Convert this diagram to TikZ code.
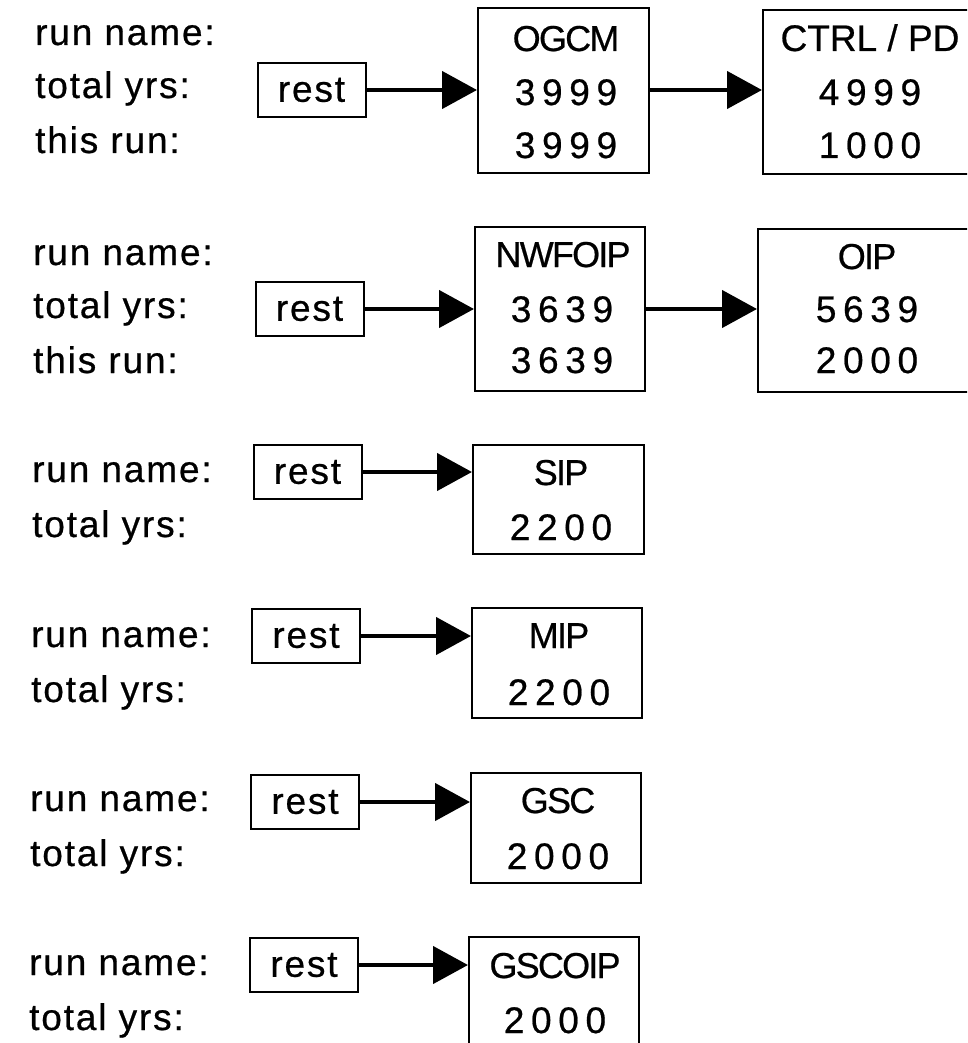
\documentclass[tikz,border=0pt]{standalone}
\usepackage{fontspec}
\setmainfont{Liberation Sans}
\newfontfamily\lblfont[LetterSpace=5,FakeBold=0.6]{Liberation Sans}
\newfontfamily\numfont[LetterSpace=18,FakeBold=0.6]{Liberation Sans}
\newfontfamily\namefont[LetterSpace=-5,FakeBold=0.6]{Liberation Sans}
\newfontfamily\plainfont[FakeBold=0.6]{Liberation Sans}
\usetikzlibrary{arrows.meta}
\tikzset{
  lbl/.style={anchor=base west, inner sep=0pt, font=\lblfont\fontsize{37}{40}\selectfont},
  nm/.style={anchor=base, inner sep=0pt, font=\namefont\fontsize{36}{40}\selectfont},
  nmplain/.style={anchor=base, inner sep=0pt, font=\plainfont\fontsize{37}{40}\selectfont},
  num/.style={anchor=base, inner sep=0pt, font=\numfont\fontsize{37}{40}\selectfont},
  restbox/.style={draw, line width=2pt, inner sep=0pt, minimum width=108pt, minimum height=54pt, font=\lblfont\fontsize{37}{40}\selectfont},
  runbox/.style={draw, line width=2pt, inner sep=0pt},
  conn/.style={line width=4.5pt, -{Triangle[length=35pt,width=37pt]}}
}
\begin{document}
\begin{tikzpicture}[x=1pt,y=-1pt]
\useasboundingbox (0,0) rectangle (967,1043);
\clip (0,0) rectangle (967,1043);
\fill[white] (0,0) rectangle (967,1043);
% ---------- group 1
\node[lbl] (l1a) at (35,45) {run name:};
\node[lbl] (l1b) at (35,98) {total yrs:};
\node[lbl] (l1c) at (35,153) {this run:};
\node[restbox] (r1) at (311.5,90) {rest};
\node[runbox, minimum width=171pt, minimum height=165pt] (b1) at (563.5,90.5) {};
\node[nm] (b1n) at (566,51) {OGCM};
\node[num] (b1t) at (566,105) {3999};
\node[num] (b1r) at (566,158) {3999};
\node[runbox, minimum width=214pt, minimum height=164pt] (c1) at (870,92) {};
\node[nmplain] (c1n) at (870,51) {CTRL / PD};
\node[num] (c1t) at (870,105) {4999};
\node[num] (c1r) at (870,158) {1000};
\draw[conn] (r1.east) -- (r1.east -| b1.west);
\draw[conn] (b1.east |- r1.east) -- (r1.east -| c1.west);
% ---------- group 2
\node[lbl] (l2a) at (33,265) {run name:};
\node[lbl] (l2b) at (33,318) {total yrs:};
\node[lbl] (l2c) at (33,373) {this run:};
\node[restbox] (r2) at (309.5,309) {rest};
\node[runbox, minimum width=170pt, minimum height=164pt] (b2) at (560,309) {};
\node[nm] (b2n) at (563,267) {NWFOIP};
\node[num] (b2t) at (562,322) {3639};
\node[num] (b2r) at (562,373) {3639};
\node[runbox, minimum width=218pt, minimum height=163pt] (c2) at (867,310.5) {};
\node[nm] (c2n) at (867,269) {OIP};
\node[num] (c2t) at (867,322) {5639};
\node[num] (c2r) at (867,373) {2000};
\draw[conn] (r2.east) -- (r2.east -| b2.west);
\draw[conn] (b2.east |- r2.east) -- (r2.east -| c2.west);
% ---------- group 3
\node[lbl] (l3a) at (32,482) {run name:};
\node[lbl] (l3b) at (32,537) {total yrs:};
\node[restbox] (r3) at (307.5,472) {rest};
\node[runbox, minimum width=171pt, minimum height=109pt] (b3) at (558.5,499.5) {};
\node[nm] (b3n) at (561,485) {SIP};
\node[num] (b3t) at (561,540) {2200};
\draw[conn] (r3.east) -- (r3.east -| b3.west);
% ---------- group 4
\node[lbl] (l4a) at (31,647) {run name:};
\node[lbl] (l4b) at (31,702) {total yrs:};
\node[restbox] (r4) at (306,636) {rest};
\node[runbox, minimum width=170pt, minimum height=110pt] (b4) at (557,663) {};
\node[nm] (b4n) at (559,648) {MIP};
\node[num] (b4t) at (559,705) {2200};
\draw[conn] (r4.east) -- (r4.east -| b4.west);
% ---------- group 5
\node[lbl] (l5a) at (30,811) {run name:};
\node[lbl] (l5b) at (30,866) {total yrs:};
\node[restbox] (r5) at (305,802) {rest};
\node[runbox, minimum width=170pt, minimum height=110pt] (b5) at (556,828) {};
\node[nm] (b5n) at (558,813) {GSC};
\node[num] (b5t) at (558,869) {2000};
\draw[conn] (r5.east) -- (r5.east -| b5.west);
% ---------- group 6
\node[lbl] (l6a) at (29,975) {run name:};
\node[lbl] (l6b) at (29,1030) {total yrs:};
\node[restbox] (r6) at (304,965) {rest};
\node[runbox, minimum width=170pt, minimum height=110pt] (b6) at (554,992) {};
\node[nm] (b6n) at (555,978) {GSCOIP};
\node[num] (b6t) at (555,1033) {2000};
\draw[conn] (r6.east) -- (r6.east -| b6.west);
\end{tikzpicture}
\end{document}
